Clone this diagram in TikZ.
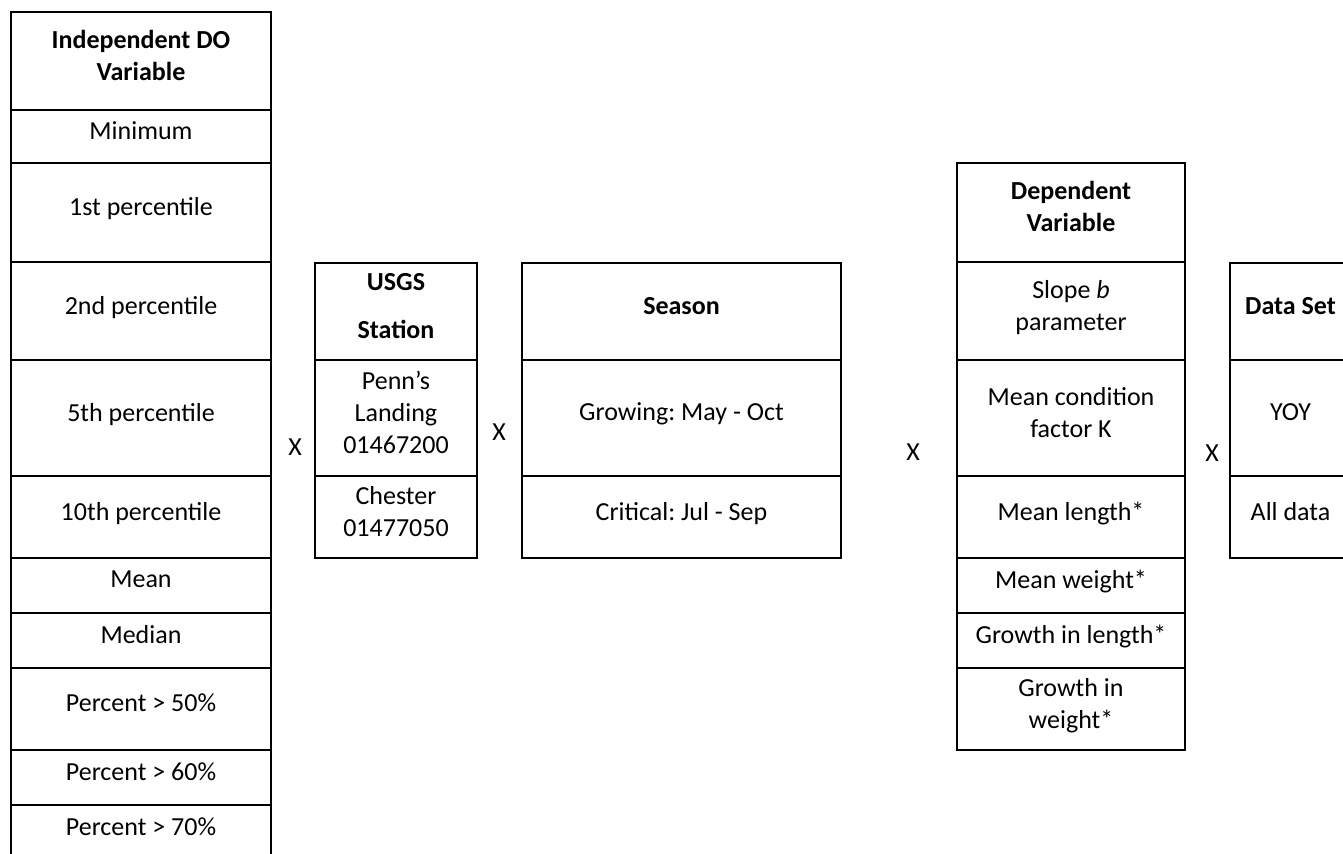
\documentclass[tikz,border=0pt]{standalone}
\usepackage{fontspec}
\setmainfont{Carlito}
\usetikzlibrary{positioning}

\begin{document}
\begin{tikzpicture}[x=0.5pt,y=-0.5pt,
	cell/.style={draw, line width=1pt, inner sep=0pt, outer sep=0pt, align=center,
		execute at end node={\rule[-6pt]{0pt}{6pt}}},
	times/.style={inner sep=0pt}]
	\clip (0,0) rectangle (1343,853);
	\fontsize{13}{16}\selectfont\frenchspacing
	% independent DO variable
	\node[cell, anchor=north, minimum width=130pt, minimum height=49pt] (ind) at (141,12) {\textbf{Independent DO}\\\textbf{Variable}};
	\node[cell, below=0pt of ind, minimum width=130pt, minimum height=26.5pt] (ind1) {Minimum};
	\node[cell, below=0pt of ind1, minimum width=130pt, minimum height=49.5pt] (ind2) {1st percentile};
	\node[cell, below=0pt of ind2, minimum width=130pt, minimum height=49pt] (ind3) {2nd percentile};
	\node[cell, below=0pt of ind3, minimum width=130pt, minimum height=58pt] (ind4) {5th percentile};
	\node[cell, below=0pt of ind4, minimum width=130pt, minimum height=41pt] (ind5) {10th percentile};
	\node[cell, below=0pt of ind5, minimum width=130pt, minimum height=27.5pt] (ind6) {Mean};
	\node[cell, below=0pt of ind6, minimum width=130pt, minimum height=27.5pt] (ind7) {Median};
	\node[cell, below=0pt of ind7, minimum width=130pt, minimum height=41pt] (ind8) {Percent > 50\%};
	\node[cell, below=0pt of ind8, minimum width=130pt, minimum height=27.5pt] (ind9) {Percent > 60\%};
	\node[cell, below=0pt of ind9, minimum width=130pt, minimum height=27.5pt] (ind10) {Percent > 70\%};
	% station
	\node[cell, anchor=north, minimum width=81pt, minimum height=48.5pt] (sta) at (396,263) {\textbf{USGS}\\[8pt]\textbf{Station}};
	\node[cell, below=0pt of sta, minimum width=81pt, minimum height=58pt] (sta1) {Penn’s\\Landing\\01467200};
	\node[cell, below=0pt of sta1, minimum width=81pt, minimum height=41pt] (sta2) {Chester\\01477050};
	% season
	\node[cell, anchor=north, minimum width=159.5pt, minimum height=48.5pt] (sea) at (681.5,263) {\textbf{Season}};
	\node[cell, below=0pt of sea, minimum width=159.5pt, minimum height=58pt] (sea1) {Growing: May - Oct};
	\node[cell, below=0pt of sea1, minimum width=159.5pt, minimum height=41pt] (sea2) {Critical: Jul - Sep};
	% dependent variable
	\node[cell, anchor=north, minimum width=114pt, minimum height=49.5pt] (dep) at (1071,163) {\textbf{Dependent}\\\textbf{Variable}};
	\node[cell, below=0pt of dep, minimum width=114pt, minimum height=49pt] (dep1) {Slope \textit{b}\\parameter};
	\node[cell, below=0pt of dep1, minimum width=114pt, minimum height=58pt] (dep2) {Mean condition\\factor K};
	\node[cell, below=0pt of dep2, minimum width=114pt, minimum height=41pt] (dep3) {Mean length*};
	\node[cell, below=0pt of dep3, minimum width=114pt, minimum height=27.5pt] (dep4) {Mean weight*};
	\node[cell, below=0pt of dep4, minimum width=114pt, minimum height=27.5pt] (dep5) {Growth in length*};
	\node[cell, below=0pt of dep5, minimum width=114pt, minimum height=41pt] (dep6) {Growth in\\weight*};
	% data set
	\node[cell, anchor=north, minimum width=60.5pt, minimum height=48.5pt] (dat) at (1290.5,263) {\textbf{Data Set}};
	\node[cell, below=0pt of dat, minimum width=60.5pt, minimum height=58pt] (dat1) {YOY};
	\node[cell, below=0pt of dat1, minimum width=60.5pt, minimum height=41pt] (dat2) {All data};
	% the X signs
	\node[times] (x1) at (295,447) {X};
	\node[times] (x2) at (499,432) {X};
	\node[times] (x3) at (913,452) {X};
	\node[times] (x4) at (1212,453) {X};
\end{tikzpicture}
\end{document}
